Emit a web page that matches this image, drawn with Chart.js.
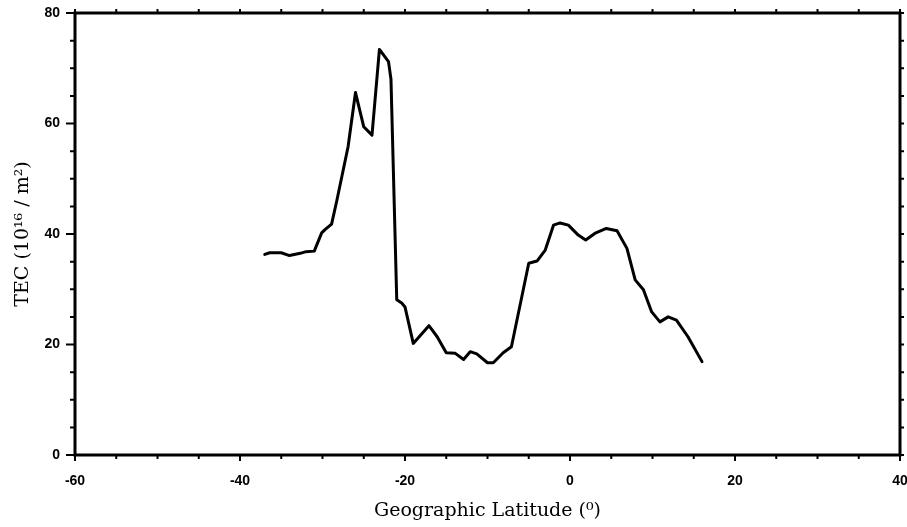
<!DOCTYPE html>
<html lang="en">
  <head>
    <meta charset="UTF-8" />
    <title>TEC vs Geographic Latitude</title>
    <script src="https://cdn.jsdelivr.net/npm/chart.js@4"></script>
    <style>
      body {
        margin: 0;
        background: #fff;
      }
      #wrap {
        width: 907px;
        height: 527px;
      }
    </style>
  </head>
  <body>
    <div id="wrap">
      <canvas id="tecChart" width="907" height="527"></canvas>
    </div>

    <script>
      // Perfil de TEC ao longo da latitude geográfica
      const latitude = [
        -37, -36.4, -35, -34, -32.7, -32, -31, -30.1, -29.7, -28.9, -28.3,
        -26.9, -26, -25, -24, -23.1, -22, -21.7, -21, -20.4, -20, -19, -17.1,
        -16.1, -15, -13.9, -12.9, -12.1, -11.3, -10, -9.3, -8.1, -7.1, -5, -4,
        -3, -2, -1.2, -0.2, 1, 1.9, 3, 4.4, 5.7, 6.9, 7.9, 8.9, 9.9, 10.9,
        11.9, 12.9, 14.3, 16,
      ];
      const tec = [
        36.3, 36.6, 36.6, 36.1, 36.5, 36.8, 36.9, 40.2, 40.8, 41.8, 45.8, 55.8,
        65.6, 59.4, 57.9, 73.4, 71.2, 68.0, 28.1, 27.5, 26.8, 20.2, 23.4, 21.4,
        18.5, 18.4, 17.3, 18.7, 18.3, 16.7, 16.7, 18.5, 19.6, 34.7, 35.1, 37.1,
        41.6, 42.0, 41.6, 39.8, 38.9, 40.1, 41.0, 40.6, 37.4, 31.7, 29.9, 25.9,
        24.1, 25.0, 24.4, 21.4, 16.9,
      ];

      // Eixos
      const xMin = -60, xMax = 40, xStep = 5;
      const yMin = 0, yMax = 80, yStep = 5;
      const labelEvery = 20;

      const points = latitude.map((lat, i) => ({ x: lat, y: tec[i] }));

      // Moldura e marcas de escala (maiores a cada 20, menores a cada 5)
      const frameTicks = {
        id: "frameTicks",
        afterDraw(chart) {
          const { ctx, chartArea: a, scales } = chart;
          const xs = scales.x, ys = scales.y;
          ctx.save();
          ctx.strokeStyle = "#000";
          ctx.lineWidth = 3;
          ctx.strokeRect(a.left, a.top, a.right - a.left, a.bottom - a.top);

          ctx.lineWidth = 2;
          ctx.beginPath();
          for (let v = xMin; v <= xMax; v += xStep) {
            const px = xs.getPixelForValue(v);
            const major = v % labelEvery === 0;
            ctx.moveTo(px, a.bottom);
            ctx.lineTo(px, a.bottom + (major ? 6 : 4));
            ctx.moveTo(px, a.top);
            ctx.lineTo(px, a.top - 4);
          }
          for (let v = yMin; v <= yMax; v += yStep) {
            const py = ys.getPixelForValue(v);
            const major = v % labelEvery === 0;
            ctx.moveTo(a.left, py);
            ctx.lineTo(a.left - (major ? 9 : 5), py);
            ctx.moveTo(a.right, py);
            ctx.lineTo(a.right + 4, py);
          }
          ctx.stroke();
          ctx.restore();
        },
      };

      const tickFont = {
        family: "'Liberation Sans', Arial, sans-serif",
        size: 14,
        weight: "bold",
      };
      const titleFont = {
        family: "'DejaVu Serif', serif",
        size: 19,
      };

      new Chart(document.getElementById("tecChart"), {
        type: "scatter",
        data: {
          datasets: [
            {
              data: points,
              showLine: true,
              borderColor: "#000",
              borderWidth: 3,
              borderJoinStyle: "round",
              borderCapStyle: "round",
              pointRadius: 0,
              tension: 0,
            },
          ],
        },
        options: {
          responsive: false,
          animation: false,
          layout: { padding: { top: 13, right: 7, left: 0, bottom: 0 } },
          plugins: {
            legend: { display: false },
            tooltip: { enabled: false },
          },
          scales: {
            x: {
              type: "linear",
              min: xMin,
              max: xMax,
              grid: { display: false },
              border: { display: false },
              ticks: {
                stepSize: labelEvery,
                color: "#000",
                font: tickFont,
                padding: 10,
                maxRotation: 0,
              },
              title: {
                display: true,
                text: "Geographic Latitude (⁰)",
                color: "#000",
                font: titleFont,
                padding: { bottom: 5 },
              },
              afterFit(scale) {
                scale.height = 72;
                scale.paddingLeft = 0;
                scale.paddingRight = 0;
              },
            },
            y: {
              min: yMin,
              max: yMax,
              grid: { display: false },
              border: { display: false },
              ticks: {
                stepSize: labelEvery,
                color: "#000",
                font: tickFont,
                padding: 7,
              },
              title: {
                display: true,
                text: "TEC (10¹⁶ / m²)",
                color: "#000",
                font: titleFont,
                padding: { top: 12 },
              },
              afterFit(scale) {
                scale.width = 75;
                scale.paddingTop = 0;
                scale.paddingBottom = 0;
              },
            },
          },
        },
        plugins: [frameTicks],
      });
    </script>
  </body>
</html>
